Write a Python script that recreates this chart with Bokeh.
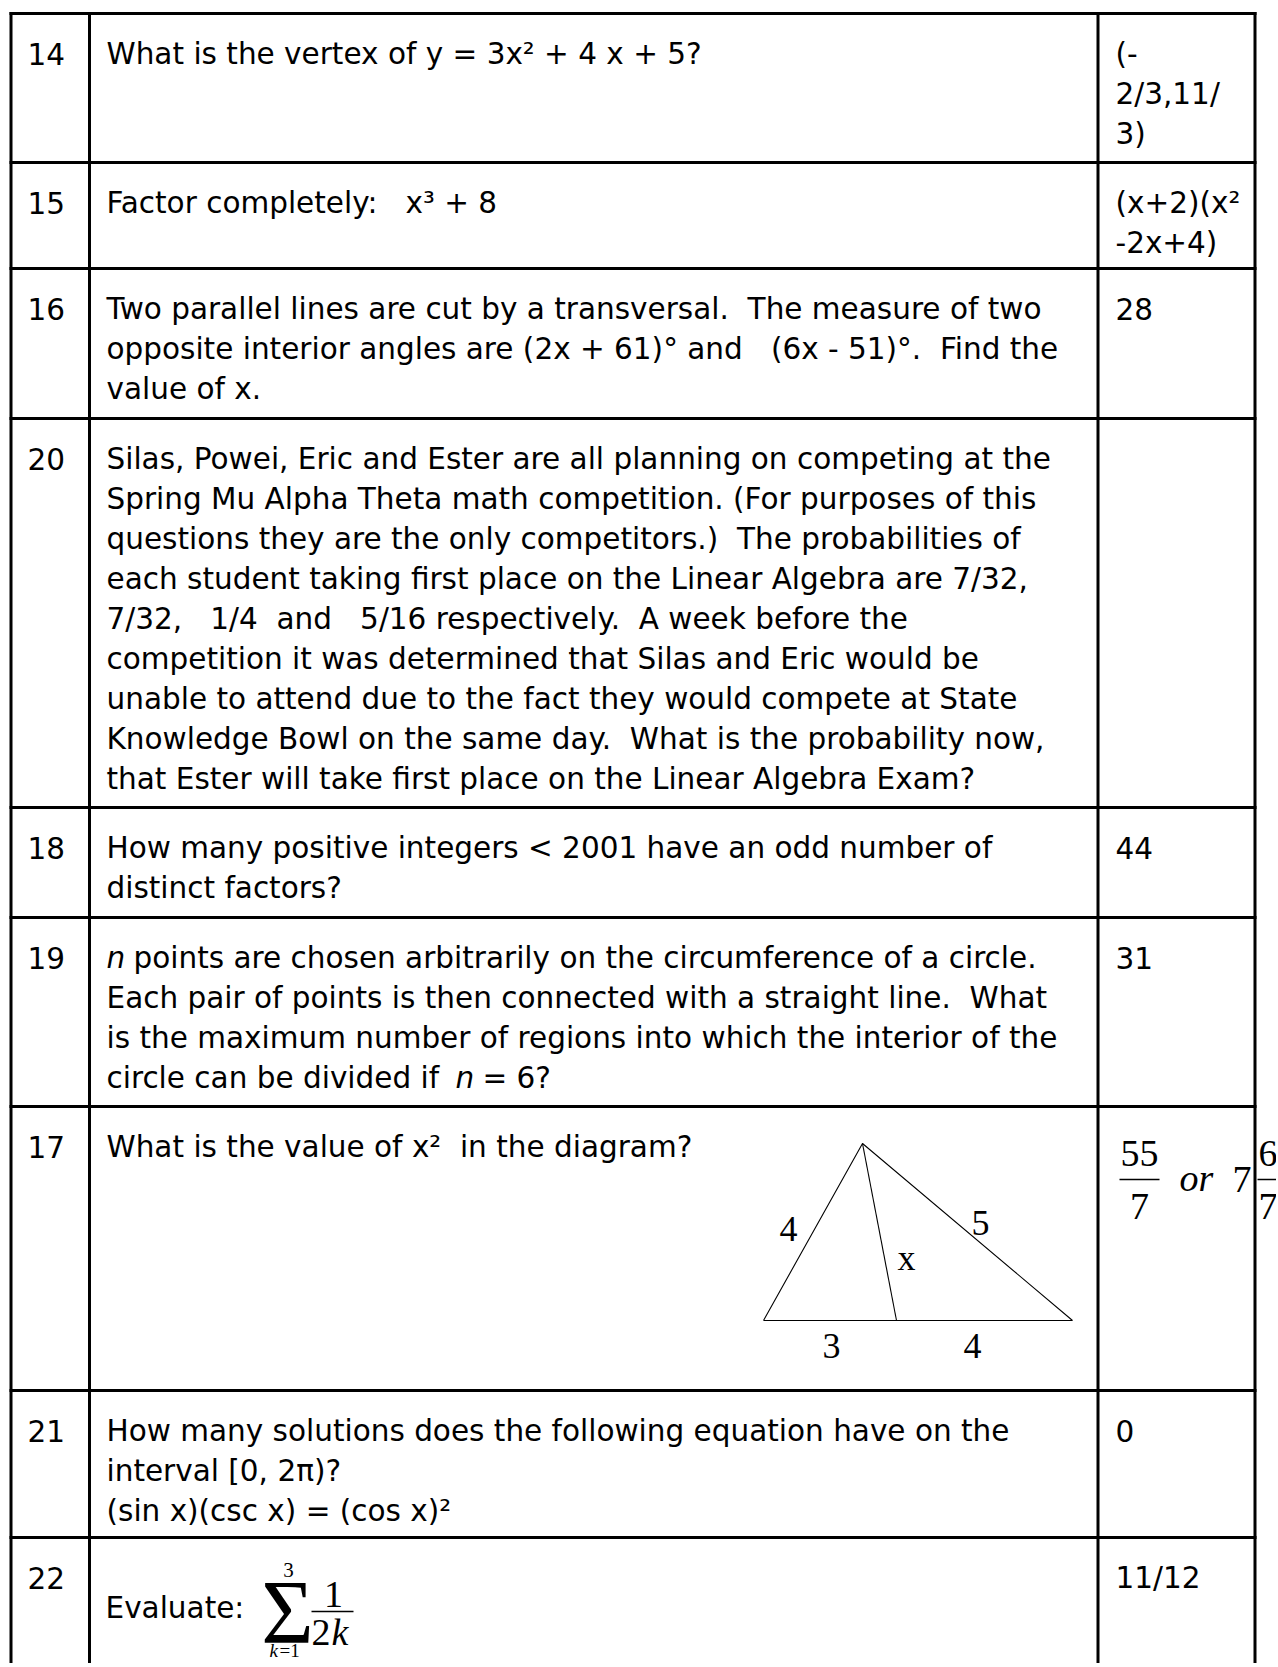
from bokeh.plotting import figure
from bokeh.models import Range1d, ColumnDataSource
from bokeh.core.properties import value
from bokeh.embed import file_html
from bokeh.resources import INLINE

NB = "\u00a0"

# ---------------- data ----------------
question_numbers = ["14", "15", "16", "20", "18", "19", "17", "21", "22"]

question_lines = [
    ["What is the vertex of y = 3x\u00b2 + 4 x + 5?"],
    ["Factor completely:" + NB + NB + " x\u00b3 + 8"],
    ["Two parallel lines are cut by a transversal." + NB + " The measure of two",
     "opposite interior angles are (2x + 61)\u00b0 and" + NB + NB + " (6x - 51)\u00b0." + NB + " Find the",
     "value of x."],
    ["Silas, Powei, Eric and Ester are all planning on competing at the",
     "Spring Mu Alpha Theta math competition. (For purposes of this",
     "questions they are the only competitors.)" + NB + " The probabilities of",
     "each student taking first place on the Linear Algebra are 7/32,",
     "7/32," + NB + NB + " 1/4" + NB + " and" + NB + NB + " 5/16 respectively." + NB + " A week before the",
     "competition it was determined that Silas and Eric would be",
     "unable to attend due to the fact they would compete at State",
     "Knowledge Bowl on the same day." + NB + " What is the probability now,",
     "that Ester will take first place on the Linear Algebra Exam?"],
    ["How many positive integers < 2001 have an odd number of",
     "distinct factors?"],
    ["points are chosen arbitrarily on the circumference of a circle.",
     "Each pair of points is then connected with a straight line." + NB + " What",
     "is the maximum number of regions into which the interior of the",
     "circle can be divided if"],
    ["What is the value of x\u00b2" + NB + " in the diagram?"],
    ["How many solutions does the following equation have on the",
     "interval [0, 2\u03c0)?",
     "(sin x)(csc x) = (cos x)\u00b2"],
    [],
]

answers = [
    ["(-", "2/3,11/", "3)"],
    ["(x+2)(x\u00b2", "-2x+4)"],
    ["28"],
    [],
    ["44"],
    ["31"],
    [],
    ["0"],
    ["11/12"],
]

row19_var = "n"
row19_tail = "= 6?"
row22_label = "Evaluate:"
sum_sign, sum_upper, sum_lower_var, sum_lower_rest = "\u03a3", "3", "k", "=1"
sum_num, sum_den_digit, sum_den_var = "1", "2", "k"
ans17_num, ans17_den, ans17_or, ans17_whole, ans17_fnum, ans17_fden = "55", "7", "or", "7", "6", "7"
tri_x = [763, 862, 1072, 763]
tri_y = [1320, 1143, 1320, 1320]
cev_x = [862, 896]
cev_y = [1143, 1320]
tri_labels = ["4", "5", "x", "3", "4"]
tri_label_x = [788, 980, 906, 831, 972]
tri_label_y = [1228, 1222, 1257, 1345, 1345]

# ---------------- layout ----------------
W, H = 1276, 1663
row_tops = [13, 162, 268, 418, 807, 917, 1106, 1390, 1537]
col_x = [10.5, 89, 1097.5, 1254.5]
NUM_X, Q_X, A_X = 27, 106, 1115
FIRST, PITCH = 51, 40
SANS = "DejaVu Sans"
SERIF = "Liberation Serif"
FSZ = 29.5
FS = "%gpx" % FSZ


def mid(baseline, size):
    # y of the em-box middle for a given alphabetic baseline
    return baseline - 0.35 * size


p = figure(width=W, height=H, x_range=Range1d(0, W), y_range=Range1d(H, 0),
           output_backend="svg", toolbar_location=None, min_border=0)
p.axis.visible = False
p.grid.visible = False
p.outline_line_color = None
p.background_fill_color = "white"
p.border_fill_color = "white"

# table lines
p.segment(x0=[9] * len(row_tops), x1=[1256] * len(row_tops), y0=row_tops, y1=row_tops,
          line_color="black", line_width=3)
p.segment(x0=col_x, x1=col_x, y0=[11.5] * len(col_x), y1=[H + 5] * len(col_x),
          line_color="black", line_width=3)

# regular sans texts
tx, ty, tt = [], [], []
for i, top in enumerate(row_tops):
    base = top + FIRST
    tx.append(NUM_X); ty.append(mid(base, FSZ)); tt.append(question_numbers[i])
    for j, line in enumerate(question_lines[i]):
        x = 133 if (i == 5 and j == 0) else Q_X
        tx.append(x); ty.append(mid(base + j * PITCH, FSZ)); tt.append(line)
    for j, line in enumerate(answers[i]):
        tx.append(A_X); ty.append(mid(base + j * PITCH, FSZ)); tt.append(line)
tx.append(482); ty.append(mid(row_tops[5] + FIRST + 3 * PITCH, FSZ)); tt.append(row19_tail)
tx.append(105); ty.append(mid(1618, FSZ)); tt.append(row22_label)

p.text(x="x", y="y", text="text", source=ColumnDataSource(dict(x=tx, y=ty, text=tt)),
       text_font=value(SANS), text_font_size=FS, text_baseline="middle",
       text_align="left", text_color="black")

b19 = row_tops[5] + FIRST
p.text(x=[Q_X, 455], y=[mid(b19, FSZ), mid(b19 + 3 * PITCH, FSZ)], text=[row19_var, row19_var],
       text_font=value(SANS), text_font_size=FS, text_font_style="italic",
       text_baseline="middle", text_align="left", text_color="black")

# triangle diagram
p.line(x=tri_x, y=tri_y, line_color="black", line_width=1.1)
p.line(x=cev_x, y=cev_y, line_color="black", line_width=1.1)
p.text(x=tri_label_x, y=tri_label_y, text=tri_labels, text_font=value(SERIF),
       text_font_size="36px", text_baseline="middle", text_align="center", text_color="black")

# answer 17: 55/7 or 7 6/7
AF = 38
AFS = "%dpx" % AF
p.text(x=[1139, 1139], y=[mid(1166, AF), mid(1219, AF)], text=[ans17_num, ans17_den],
       text_font=value(SERIF), text_font_size=AFS, text_baseline="middle",
       text_align="center", text_color="black")
p.segment(x0=[1119, 1257], x1=[1159, 1290], y0=[1179, 1179], y1=[1179, 1179],
          line_color="black", line_width=1.5)
p.text(x=[1179], y=[mid(1191, AF)], text=[ans17_or], text_font=value(SERIF),
       text_font_size=AFS, text_font_style="italic", text_baseline="middle",
       text_align="left", text_color="black")
p.text(x=[1232, 1258, 1258], y=[mid(1192, AF), mid(1166, AF), mid(1219, AF)],
       text=[ans17_whole, ans17_fnum, ans17_fden], text_font=value(SERIF),
       text_font_size=AFS, text_baseline="middle", text_align="left", text_color="black")

# row 22 summation
p.text(x=[287], y=[1612], text=[sum_sign], text_font=value(SERIF), text_font_size="90px",
       text_baseline="middle", text_align="center", text_color="black")
p.text(x=[288], y=[mid(1577, 21)], text=[sum_upper], text_font=value(SERIF), text_font_size="21px",
       text_baseline="middle", text_align="center", text_color="black")
p.text(x=[269], y=[mid(1657, 19)], text=[sum_lower_var], text_font=value(SERIF), text_font_size="19px",
       text_font_style="italic", text_baseline="middle", text_align="left", text_color="black")
p.text(x=[279], y=[mid(1657, 19)], text=[sum_lower_rest], text_font=value(SERIF), text_font_size="19px",
       text_baseline="middle", text_align="left", text_color="black")
p.segment(x0=[311], x1=[353], y0=[1611], y1=[1611], line_color="black", line_width=1.5)
p.text(x=[333], y=[mid(1607, 38)], text=[sum_num], text_font=value(SERIF), text_font_size="38px",
       text_baseline="middle", text_align="center", text_color="black")
p.text(x=[330], y=[mid(1645, 38)], text=[sum_den_digit], text_font=value(SERIF), text_font_size="38px",
       text_baseline="middle", text_align="right", text_color="black")
p.text(x=[331], y=[mid(1645, 38)], text=[sum_den_var], text_font=value(SERIF), text_font_size="38px",
       text_font_style="italic", text_baseline="middle", text_align="left", text_color="black")

open("out.html", "w").write(file_html(p, INLINE))
